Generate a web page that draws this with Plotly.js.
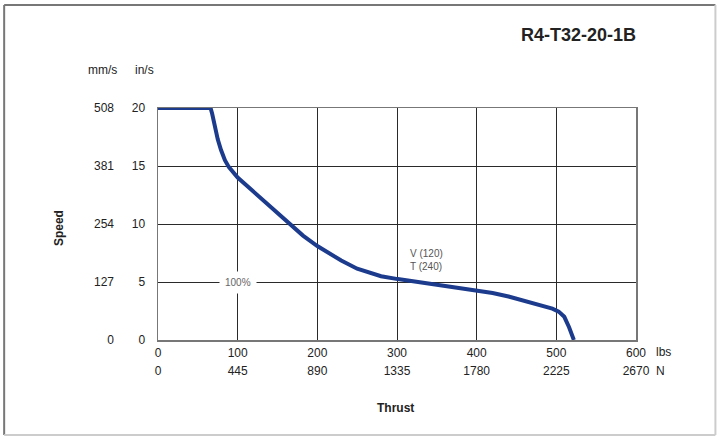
<!DOCTYPE html>
<html>
<head>
<meta charset="utf-8">
<script src="https://cdn.plot.ly/plotly-3.0.1.min.js"></script>
<style>html,body{margin:0;padding:0;background:#fff;} #chart{width:718px;height:436px;}</style>
</head>
<body>
<div id="chart"></div>
<script>
// Curve: thrust (lbs) vs speed (in/s)
const thrustLbs = [0, 66, 68, 71, 75, 79, 84, 89, 95, 100, 118, 135, 150, 164, 182, 200, 215, 230, 250, 265, 280, 301, 325, 354, 380, 401, 420, 440, 460, 480, 495, 503, 510, 516, 522];
const speedIns  = [20, 20, 19.5, 18.5, 17.3, 16.4, 15.5, 14.9, 14.4, 14.0, 12.9, 11.85, 10.9, 10.0, 9.0, 8.1, 7.45, 6.85, 6.15, 5.8, 5.5, 5.25, 5.0, 4.7, 4.5, 4.27, 4.05, 3.75, 3.4, 3.0, 2.7, 2.45, 2.0, 1.1, 0];

// Tick labels
const lbsTicks = [0, 100, 200, 300, 400, 500, 600];
const newtonLabels = ['0', '445', '890', '1335', '1780', '2225', '2670'];
const insTicks = [0, 5, 10, 15, 20];
const mmsLabels = ['0', '127', '254', '381', '508'];

const chartTitle = 'R4-T32-20-1B';
const curveLabel = 'V (120)<br>T (240)';
const dutyLabel = '100%';

const FONT = 'Liberation Sans, Arial, sans-serif';
const tickFont = {family: FONT, size: 12, color: '#222'};

const traces = [
  {x: thrustLbs, y: speedIns, type: 'scatter', mode: 'lines',
   line: {color: '#1c3b8d', width: 4, shape: 'linear'},
   cliponaxis: false, hoverinfo: 'skip', showlegend: false},
  {x: thrustLbs, y: speedIns, xaxis: 'x2', yaxis: 'y', type: 'scatter', mode: 'lines',
   line: {width: 0}, opacity: 0, hoverinfo: 'skip', showlegend: false},
  {x: thrustLbs, y: speedIns, xaxis: 'x', yaxis: 'y2', type: 'scatter', mode: 'lines',
   line: {width: 0}, opacity: 0, hoverinfo: 'skip', showlegend: false}
];

const bx0 = (4 - 158) / 478.5, bx1 = (716 - 158) / 478.5;
const by0 = (340 - 435) / 232, by1 = (340 - 5) / 232;

const layout = {
  width: 718, height: 436,
  margin: {l: 158, r: 81.5, t: 108, b: 96},
  paper_bgcolor: '#fff', plot_bgcolor: '#fff',
  showlegend: false,
  font: {family: FONT, color: '#222'},
  xaxis: {range: [0, 600], tickvals: lbsTicks, ticktext: lbsTicks.map(String),
          showgrid: true, gridcolor: '#2a2a2a', gridwidth: 1, zeroline: false,
          showline: true, linecolor: '#777', linewidth: 1.5, mirror: true,
          ticks: '', tickfont: tickFont, ticklabelstandoff: 1, fixedrange: true},
  xaxis2: {range: [0, 600], overlaying: 'x', side: 'bottom', anchor: 'y',
           tickvals: lbsTicks, ticktext: newtonLabels, showgrid: false, zeroline: false,
           showline: false, ticks: '', tickfont: tickFont, ticklabelstandoff: 22, fixedrange: true},
  yaxis: {range: [0, 20], tickvals: insTicks, ticktext: insTicks.map(String),
          showgrid: true, gridcolor: '#2a2a2a', gridwidth: 1, zeroline: false,
          showline: true, linecolor: '#777', linewidth: 1.5, mirror: true,
          ticks: '', tickfont: tickFont, ticklabelstandoff: 9, fixedrange: true},
  yaxis2: {range: [0, 20], overlaying: 'y', side: 'left', anchor: 'x',
           tickvals: insTicks, ticktext: mmsLabels, showgrid: false, zeroline: false,
           showline: false, ticks: '', tickfont: tickFont, ticklabelstandoff: 43, fixedrange: true},
  shapes: [
    {type: 'line', xref: 'paper', yref: 'paper', x0: bx0, x1: bx1, y0: by1, y1: by1, line: {color: '#777', width: 2}},
    {type: 'line', xref: 'paper', yref: 'paper', x0: bx0, x1: bx0, y0: by0, y1: by1, line: {color: '#777', width: 2}},
    {type: 'line', xref: 'paper', yref: 'paper', x0: bx0, x1: bx1, y0: by0, y1: by0, line: {color: '#ccc', width: 2}},
    {type: 'line', xref: 'paper', yref: 'paper', x0: bx1, x1: bx1, y0: by0, y1: by1, line: {color: '#ccc', width: 2}}
  ],
  annotations: [
    {text: '<b>' + chartTitle + '</b>', xref: 'paper', yref: 'paper', x: 1.004, y: 1.3147,
     xanchor: 'right', yanchor: 'middle', showarrow: false, font: {family: FONT, size: 18, color: '#222'}},
    {text: 'mm/s', xref: 'paper', yref: 'paper', x: -0.117, y: 1.164, xanchor: 'center', yanchor: 'middle',
     showarrow: false, font: {family: FONT, size: 12, color: '#222'}},
    {text: 'in/s', xref: 'paper', yref: 'paper', x: -0.0272, y: 1.164, xanchor: 'center', yanchor: 'middle',
     showarrow: false, font: {family: FONT, size: 12, color: '#222'}},
    {text: 'lbs', xref: 'paper', yref: 'paper', x: 1.0575, y: -0.0496, xanchor: 'center', yanchor: 'middle',
     showarrow: false, font: {family: FONT, size: 12, color: '#222'}},
    {text: 'N', xref: 'paper', yref: 'paper', x: 1.0512, y: -0.1323, xanchor: 'center', yanchor: 'middle',
     showarrow: false, font: {family: FONT, size: 12, color: '#222'}},
    {text: '<b>Speed</b>', xref: 'paper', yref: 'paper', x: -0.2069, y: 0.4828, xanchor: 'center', yanchor: 'middle',
     textangle: -90, showarrow: false, font: {family: FONT, size: 12, color: '#222'}},
    {text: '<b>Thrust</b>', xref: 'paper', yref: 'paper', x: 0.4974, y: -0.293, xanchor: 'center', yanchor: 'middle',
     showarrow: false, font: {family: FONT, size: 12, color: '#222'}},
    {text: curveLabel, xref: 'x', yref: 'y', x: 313.5, y: 6.9, xanchor: 'left', yanchor: 'middle', align: 'left',
     showarrow: false, font: {family: FONT, size: 10, color: '#555'}},
    {text: dutyLabel, xref: 'x', yref: 'y', x: 100, y: 5, xanchor: 'center', yanchor: 'middle',
     showarrow: false, bgcolor: '#fff', borderpad: 5, font: {family: FONT, size: 10, color: '#666'}}
  ]
};

Plotly.newPlot('chart', traces, layout, {staticPlot: true, displayModeBar: false});
</script>
</body>
</html>
